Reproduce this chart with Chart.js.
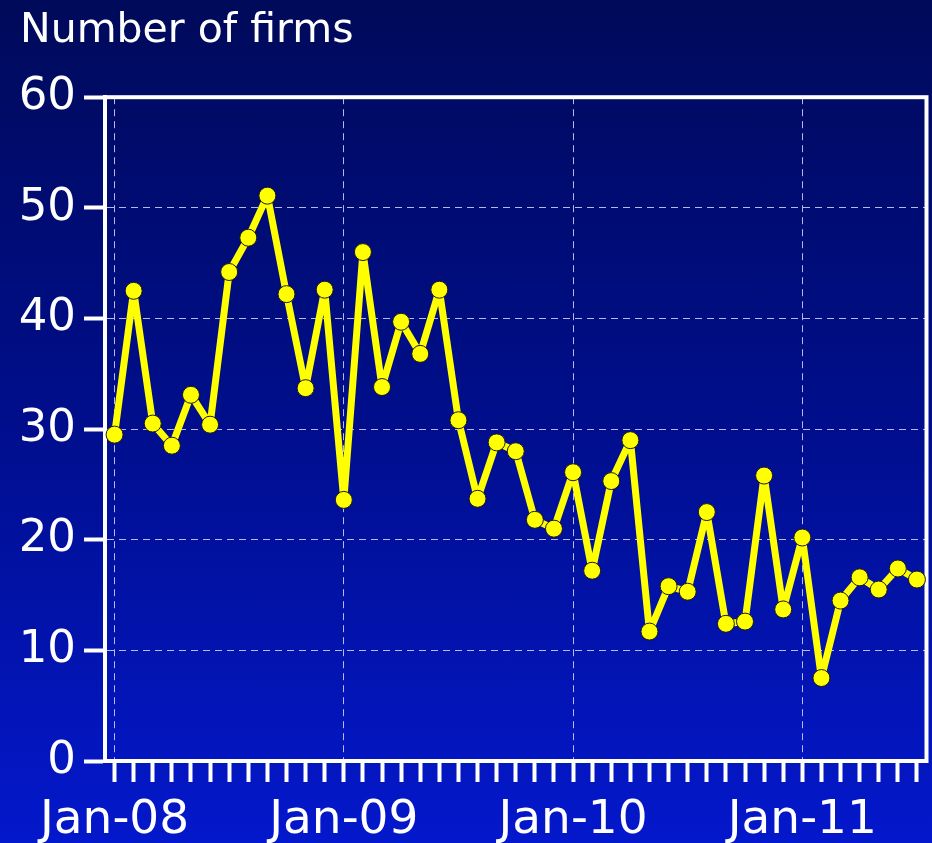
<!DOCTYPE html>
<html>
<head>
<meta charset="utf-8">
<script src="https://cdn.jsdelivr.net/npm/chart.js@4/dist/chart.umd.min.js"></script>
<style>
  html, body { margin: 0; padding: 0; overflow: hidden; }
  body { width: 932px; height: 843px; background: linear-gradient(#000a5a 0%, #000e8c 50%, #0418cc 100%); }
  canvas { display: block; }
</style>
</head>
<body>
<!-- canvas a little wider than the page: Chart.js keeps ~9px right of the plot for the last point -->
<canvas id="firmsChart" width="936" height="843"></canvas>
<script>
const months = [
  'Jan-08','Feb-08','Mar-08','Apr-08','May-08','Jun-08','Jul-08','Aug-08','Sep-08','Oct-08','Nov-08','Dec-08',
  'Jan-09','Feb-09','Mar-09','Apr-09','May-09','Jun-09','Jul-09','Aug-09','Sep-09','Oct-09','Nov-09','Dec-09',
  'Jan-10','Feb-10','Mar-10','Apr-10','May-10','Jun-10','Jul-10','Aug-10','Sep-10','Oct-10','Nov-10','Dec-10',
  'Jan-11','Feb-11','Mar-11','Apr-11','May-11','Jun-11','Jul-11'
];

const firms = [
  29.5, 42.5, 30.5, 28.5, 33.1, 30.4, 44.2, 47.3, 51.1, 42.2, 33.7, 42.6,
  23.6, 46.0, 33.8, 39.7, 36.8, 42.6, 30.8, 23.7, 28.8, 28.0, 21.8, 21.0,
  26.1, 17.2, 25.3, 29.0, 11.7, 15.8, 15.3, 22.5, 12.4, 12.6, 25.8, 13.7,
  20.2, 7.5, 14.5, 16.6, 15.5, 17.4, 16.4
];

const yTicks = [0, 10, 20, 30, 40, 50, 60];

const gridCol = 'rgba(215,215,255,0.85)';

// white box round the plot area
const frame = {
  id: 'frame',
  beforeDatasetsDraw(chart) {
    const a = chart.chartArea;
    const c = chart.ctx;
    c.save();
    c.strokeStyle = '#ffffff';
    c.lineWidth = 4;
    c.strokeRect(a.left, a.top, a.right - a.left, a.bottom - a.top);
    c.restore();
  }
};

const ctx = document.getElementById('firmsChart').getContext('2d');
new Chart(ctx, {
  type: 'line',
  data: {
    labels: months,
    datasets: [{
      label: 'Number of firms',
      data: firms,
      borderColor: '#ffff00',
      borderWidth: 7,
      borderJoinStyle: 'round',
      borderCapStyle: 'round',
      pointRadius: 8.5,
      pointBackgroundColor: '#ffff00',
      pointBorderColor: '#1a1a1a',
      pointBorderWidth: 1,
      tension: 0,
      fill: false
    }]
  },
  options: {
    responsive: false,
    animation: false,
    layout: { padding: { left: 20, right: 0, top: 0, bottom: 0 } },
    plugins: {
      legend: { display: false },
      tooltip: { enabled: false },
      title: {
        display: true,
        text: 'Number of firms',
        align: 'start',
        color: '#ffffff',
        font: { family: 'DejaVu Sans', size: 41, weight: 'normal' },
        padding: { top: 7, bottom: 41 }
      }
    },
    scales: {
      x: {
        type: 'category',
        offset: true,
        grid: {
          offset: false,
          color: c => (months[c.index] || '').startsWith('Jan') ? gridCol : 'transparent',
          lineWidth: 1,
          tickColor: '#ffffff',
          tickWidth: 4,
          tickLength: 21
        },
        border: { display: true, color: '#ffffff', width: 4, dash: [7, 5] },
        ticks: {
          autoSkip: false,
          maxRotation: 0,
          color: '#ffffff',
          padding: 11,
          font: { family: 'DejaVu Sans', size: 47 },
          callback: function (v) {
            const l = this.getLabelForValue(v);
            return l.startsWith('Jan') ? l : '';
          }
        },
        afterFit: s => { s.height = 82; s.paddingLeft = 0; s.paddingRight = 0; }
      },
      y: {
        min: 0,
        max: 60,
        grid: {
          color: c => (c.tick && (c.tick.value === 0 || c.tick.value === 60)) ? 'transparent' : gridCol,
          lineWidth: 1,
          tickColor: '#ffffff',
          tickWidth: 4,
          tickLength: 21
        },
        border: { display: true, color: '#ffffff', width: 4, dash: [7, 5] },
        afterBuildTicks: s => { s.ticks = yTicks.map(v => ({ value: v })); },
        ticks: {
          color: '#ffffff',
          padding: 8,
          font: { family: 'DejaVu Sans', size: 45 }
        },
        afterFit: s => { s.width = 85; }
      }
    }
  },
  plugins: [frame]
});
</script>
</body>
</html>
